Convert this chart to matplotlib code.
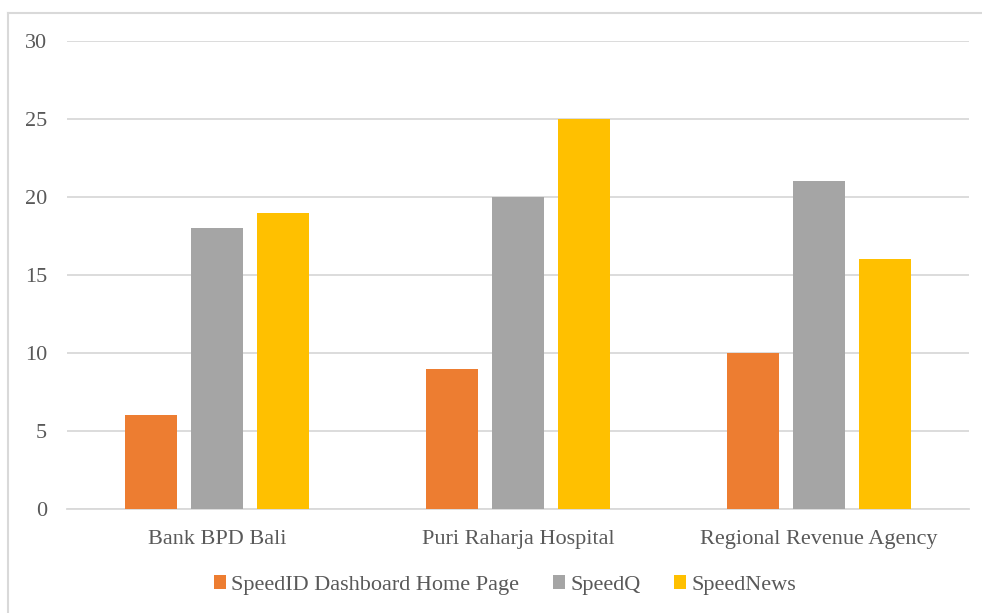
import matplotlib
matplotlib.use("Agg")
import matplotlib.pyplot as plt
import numpy as np
from matplotlib.lines import Line2D

categories = ["Bank BPD Bali", "Puri Raharja Hospital", "Regional Revenue Agency"]
series_names = ["SpeedID Dashboard Home Page", "SpeedQ", "SpeedNews"]
speedid = [6, 9, 10]
speedq = [18, 20, 21]
speednews = [19, 25, 16]
colors = ["#ED7D31", "#A5A5A5", "#FFC000"]
yticks = [0, 5, 10, 15, 20, 25, 30]

plt.rcParams['font.family'] = ['Liberation Serif', 'DejaVu Serif']
W, H = 982, 613
fig = plt.figure(figsize=(W/100, H/100), dpi=100)
ax = fig.add_axes([67/W, 1-509/H, (969-67)/W, (509-41)/H])

x = np.arange(len(categories))
bw = 0.173
offsets = [-0.22, 0, 0.22]
for vals, off, c, name in zip([speedid, speedq, speednews], offsets, colors, series_names):
    ax.bar(x + off, vals, width=bw, color=c, label=name, zorder=3)

ax.set_xlim(-0.5, 2.5)
ax.set_ylim(0, 30)
ax.set_yticks(yticks)
ax.set_yticklabels([str(t) for t in yticks])
ax.set_xticks(x)
ax.set_xticklabels(categories)
ax.grid(axis='y', color='#D9D9D9', linewidth=1.3, zorder=0)
for s in ['top', 'right', 'left']:
    ax.spines[s].set_visible(False)
ax.spines['bottom'].set_color('#D9D9D9')
ax.spines['bottom'].set_linewidth(1.3)
ax.tick_params(axis='both', length=0, labelsize=16, labelcolor='#595959')
ax.tick_params(axis='y', pad=14.5)
ax.tick_params(axis='x', pad=15)

leg = fig.legend(loc='center', bbox_to_anchor=(505/W, 1-585/H), ncol=3, frameon=False,
                 fontsize=16, handlelength=0.55, handleheight=0.55, handletextpad=0.25,
                 columnspacing=1.5)
for t in leg.get_texts():
    t.set_color('#595959')

fig.add_artist(Line2D([8/W, 8/W], [0, 1-13/H], transform=fig.transFigure, color='#D9D9D9', linewidth=1.5))
fig.add_artist(Line2D([8/W, 1], [1-13/H, 1-13/H], transform=fig.transFigure, color='#D9D9D9', linewidth=1.5))

fig.savefig("out.png", dpi=100)
